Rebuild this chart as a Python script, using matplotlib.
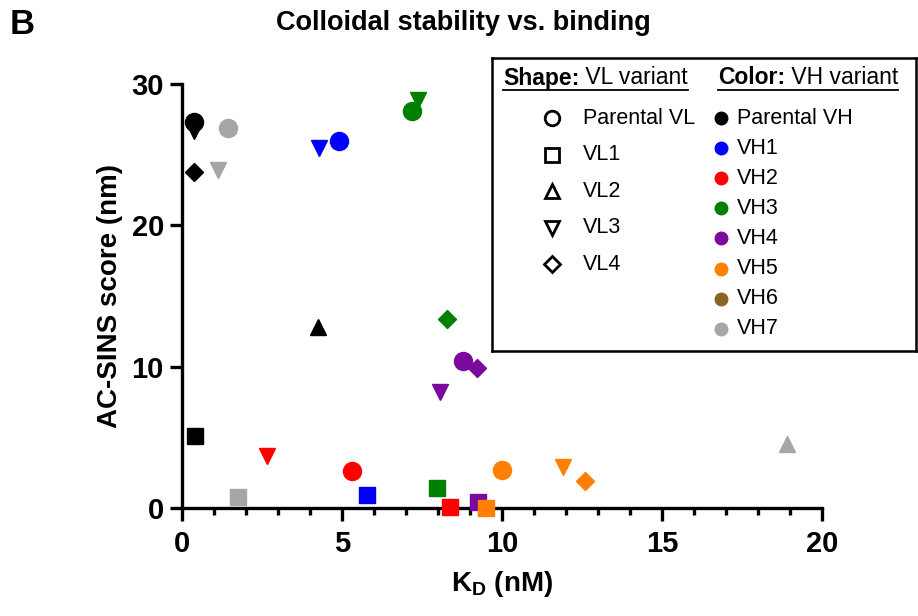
import matplotlib

matplotlib.use("Agg")
import matplotlib.pyplot as plt
from matplotlib.lines import Line2D

plt.rcParams["font.family"] = ["Liberation Sans", "DejaVu Sans"]
plt.rcParams["mathtext.fontset"] = "custom"
plt.rcParams["mathtext.rm"] = "Liberation Sans"
plt.rcParams["mathtext.bf"] = "Liberation Sans:bold"

# VH variant -> colour
VH_NAMES = ["Parental VH", "VH1", "VH2", "VH3", "VH4", "VH5", "VH6", "VH7"]
VH_COLORS = ["#000000", "#0000FF", "#FF0000", "#008000", "#7A0A9E", "#FF8000", "#8C6422", "#A6A6A6"]

# VL variant -> marker
VL_NAMES = ["Parental VL", "VL1", "VL2", "VL3", "VL4"]
VL_MARKERS = ["o", "s", "^", "v", "D"]

# data per VL variant: K_D (nM), AC-SINS score (nm), VH variant
parental_vl_kd = [0.37, 1.44, 4.90, 7.19, 5.31, 8.78, 10.0]
parental_vl_score = [27.3, 26.9, 26.0, 28.1, 2.6, 10.4, 2.7]
parental_vl_vh = ["Parental VH", "VH7", "VH1", "VH3", "VH2", "VH4", "VH5"]

vl1_kd = [0.40, 1.75, 5.78, 7.97, 8.38, 9.25, 9.50]
vl1_score = [5.1, 0.8, 0.9, 1.4, 0.1, 0.4, 0.0]
vl1_vh = ["Parental VH", "VH7", "VH1", "VH3", "VH2", "VH4", "VH5"]

vl2_kd = [4.25, 18.9]
vl2_score = [12.8, 4.5]
vl2_vh = ["Parental VH", "VH7"]

vl3_kd = [0.37, 1.12, 4.28, 7.38, 2.66, 8.06, 11.9]
vl3_score = [26.7, 23.9, 25.5, 28.9, 3.7, 8.2, 2.9]
vl3_vh = ["Parental VH", "VH7", "VH1", "VH3", "VH2", "VH4", "VH5"]

vl4_kd = [0.37, 8.28, 9.22, 12.6]
vl4_score = [23.8, 13.4, 9.9, 1.9]
vl4_vh = ["Parental VH", "VH3", "VH4", "VH5"]

SERIES = [
    (parental_vl_kd, parental_vl_score, parental_vl_vh),
    (vl1_kd, vl1_score, vl1_vh),
    (vl2_kd, vl2_score, vl2_vh),
    (vl3_kd, vl3_score, vl3_vh),
    (vl4_kd, vl4_score, vl4_vh),
]
MARKER_SIZE = {"o": 13, "s": 12, "^": 12, "v": 12, "D": 9}

W, H = 918, 616
fig = plt.figure(figsize=(W / 100, H / 100), dpi=100)
ax = fig.add_axes([182 / W, 1 - 508 / H, 640 / W, 424 / H])

color_of = dict(zip(VH_NAMES, VH_COLORS))
for (kd, score, vh), mk in zip(SERIES, VL_MARKERS):
    for x, y, v in zip(kd, score, vh):
        ax.plot(x, y, marker=mk, ms=MARKER_SIZE[mk], color=color_of[v],
                mec=color_of[v], ls="none", zorder=3, clip_on=False)

ax.set_xlim(0, 20)
ax.set_ylim(0, 30)
ax.set_xticks([0, 5, 10, 15, 20])
ax.set_xticks(range(0, 21), minor=True)
ax.set_yticks([0, 10, 20, 30])
for s in ("top", "right"):
    ax.spines[s].set_visible(False)
for s in ("left", "bottom"):
    ax.spines[s].set_linewidth(2.4)
ax.tick_params(axis="both", which="major", width=2.4, length=9, labelsize=21, pad=4)
ax.tick_params(axis="x", which="major", pad=7)
ax.tick_params(axis="x", which="minor", width=2.4, length=5)
for lab in ax.get_xticklabels() + ax.get_yticklabels():
    lab.set_fontweight("bold")

ax.set_xlabel(r"K$_\mathbf{D}$ (nM)", fontsize=20, fontweight="bold", labelpad=8)
ax.set_ylabel("AC-SINS score (nm)", fontsize=20, fontweight="bold", labelpad=6)

fig.text(463 / W, 1 - 23 / H, "Colloidal stability vs. binding", ha="center",
         va="center", fontsize=19.5, fontweight="bold")
fig.text(10 / W, 1 - 25 / H, "B", ha="left", va="center", fontsize=25, fontweight="bold")

# custom legend box drawn in pixel coordinates
L0, T0, R0, B0 = 492, 58, 916, 351
lax = fig.add_axes([L0 / W, 1 - B0 / H, (R0 - L0) / W, (B0 - T0) / H])
lax.set_xlim(L0, R0)
lax.set_ylim(B0, T0)
lax.set_xticks([])
lax.set_yticks([])
for sp in lax.spines.values():
    sp.set_linewidth(1.8)

renderer = fig.canvas.get_renderer()


def header(x, y, bold, rest):
    t1 = lax.text(x, y, bold, fontsize=16.5, fontweight="bold", va="center", ha="left")
    bb = t1.get_window_extent(renderer).transformed(lax.transData.inverted())
    t2 = lax.text(bb.x1, y, rest, fontsize=16.5, va="center", ha="left")
    bb2 = t2.get_window_extent(renderer).transformed(lax.transData.inverted())
    yline = max(bb.y0, bb.y1) + 0.5
    lax.add_line(Line2D([x, bb2.x1], [yline, yline], color="black", lw=1.3))


header(503, 78, "Shape:", " VL variant")
header(718, 78, "Color:", " VH variant")

for i, (name, mk) in enumerate(zip(VL_NAMES, VL_MARKERS)):
    y = 118 + i * 36.6
    lax.plot(552, y, marker=mk, ms=10.5 if mk != "D" else 8, mfc="white", mec="black",
             mew=2.0, ls="none")
    lax.text(583, y, name, fontsize=15.5, va="center", ha="left")

for i, (name, c) in enumerate(zip(VH_NAMES, VH_COLORS)):
    y = 118 + i * 30.1
    lax.plot(721, y, marker="o", ms=9, color=c, ls="none")
    lax.text(737, y, name, fontsize=15.5, va="center", ha="left")

fig.savefig("out.png", dpi=100)
